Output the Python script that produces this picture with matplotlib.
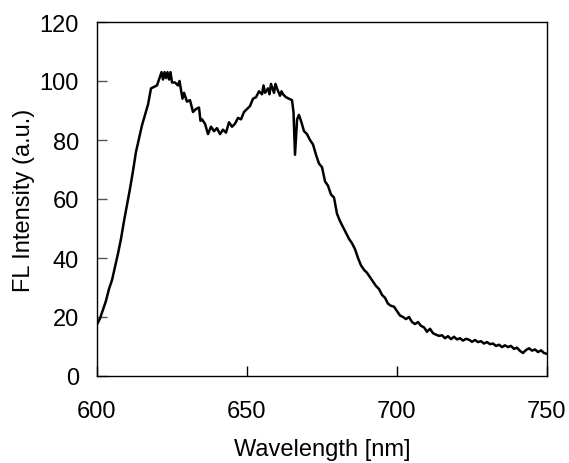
import matplotlib
matplotlib.use("Agg")
import matplotlib.pyplot as plt

plt.rcParams['font.family'] = ['Liberation Sans', 'DejaVu Sans']

wavelength = [600, 601, 602, 603, 604, 605, 606, 607, 608, 609, 610, 611, 612, 613, 614, 615,
              616, 617, 618, 619, 620, 621, 621.5, 622, 622.5, 623, 623.5, 624, 624.5, 625,
              626, 627, 627.5, 628, 628.5, 629, 630, 631, 632, 633, 634, 634.5, 635, 636, 637,
              638, 639, 640, 641, 642, 643, 644, 645, 646, 647, 648, 649, 650, 651, 652, 653,
              654, 655, 655.5, 656, 657, 657.5, 658, 659, 659.5, 660, 661, 661.5, 662, 663,
              664, 665, 665.5, 666, 666.7, 667.3, 668, 669, 670, 671, 672, 673, 674, 675, 676,
              677, 678, 679, 680, 681, 682, 683, 684, 685, 686, 687, 688, 689, 690, 691, 692,
              693, 694, 695, 696, 697, 698, 699, 700, 701, 702, 703, 704, 705, 706, 707, 708,
              709, 710, 711, 712, 713, 714, 715, 716, 717, 718, 719, 720, 721, 722, 723, 724,
              725, 726, 727, 728, 729, 730, 731, 732, 733, 734, 735, 736, 737, 738, 739, 740,
              741, 742, 743, 744, 745, 746, 747, 748, 749, 750]
intensity = [17.5, 19.5, 22.5, 25.5, 29.5, 32.5, 37.0, 41.5, 46.5, 52.5, 58.0, 63.5, 69.5, 76.0,
             80.5, 85.0, 88.5, 92.0, 97.5, 98.0, 98.5, 101.5, 103, 100.5, 103, 101, 103, 100.5,
             103, 99.5, 99.5, 98.5, 100, 97, 94, 96, 93, 93.5, 89.5, 90.5, 91, 86.5, 87, 85.5,
             82, 84.5, 83, 84, 82, 83.5, 82.5, 86, 84.5, 85.5, 87.5, 87, 89.5, 90.5, 91.5, 94,
             94.5, 96.5, 95.5, 98.5, 96, 97.5, 95.5, 99, 96, 99, 97.5, 95, 96.5, 95.5, 94.5,
             94, 93.5, 89.5, 75, 87, 88.5, 86.5, 83, 82, 80, 78.5, 75, 72, 70.8, 66, 64.5,
             61.5, 60.5, 55, 52.5, 50.5, 48.5, 46.5, 45, 43, 40, 37.5, 36, 35, 33.5, 32, 30.5,
             29.5, 27.5, 26.5, 24.5, 23.8, 23.5, 22, 20.5, 20, 19.3, 20, 18.3, 17.6, 18.3, 17,
             16.5, 15, 16, 14.5, 14, 13.6, 13.8, 12.8, 13.5, 12.5, 13.3, 12.4, 12.8, 12.0, 12.6,
             12.3, 11.6, 12.2, 11.5, 11.8, 11.0, 11.5, 10.8, 11.0, 10.2, 10.6, 9.8, 10.4, 9.8,
             10.2, 9.2, 9.6, 8.5, 7.8, 8.8, 9.4, 8.6, 9.0, 8.1, 8.7, 7.8, 7.5]

x_ticks = [600, 650, 700, 750]
y_ticks = [0, 20, 40, 60, 80, 100, 120]

fig = plt.figure(figsize=(5.69, 4.64), dpi=100)
ax = fig.add_axes([97/569, 1-377/464, 450/569, 354/464])
ax.plot(wavelength, intensity, color='black', lw=1.8)
ax.set_xlim(600, 750)
ax.set_ylim(0, 120)
ax.set_xticks(x_ticks)
ax.set_yticks(y_ticks)
ax.tick_params(axis='y', direction='in', length=7, width=1, labelsize=17, pad=13, colors='#555555', labelcolor='black')
ax.tick_params(axis='x', direction='in', length=7, width=1, labelsize=17, pad=17, colors='black', labelcolor='black')
for s in ax.spines.values():
    s.set_linewidth(1.0)
ax.set_xlabel('Wavelength [nm]', fontsize=17, labelpad=12)
ax.set_ylabel('FL Intensity (a.u.)', fontsize=17, labelpad=3)
fig.savefig('out.png', dpi=100)
